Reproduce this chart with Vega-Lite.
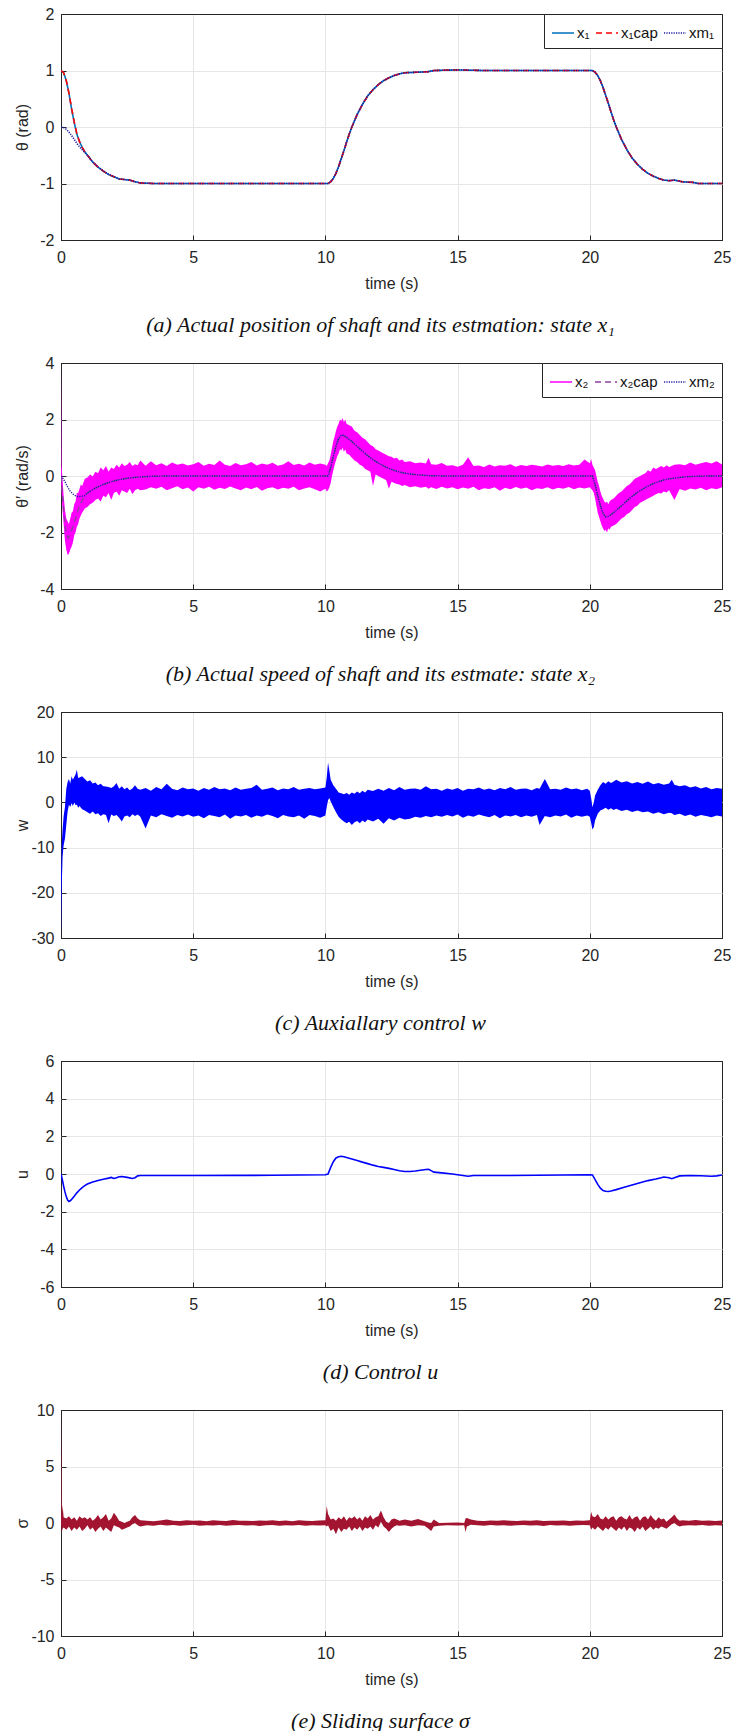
{
"$schema": "https://vega.github.io/schema/vega-lite/v6.json",
"padding": {"left": 13, "top": 5, "right": 5, "bottom": 5},
"spacing": 17,
"datasets": {
"pos": [
{"t":0,"x1":1,"x1cap":1,"xm1":0},{"t":0.1,"x1":0.96,"x1cap":0.96,"xm1":-0.01},{"t":0.2,"x1":0.82,"x1cap":0.82,"xm1":-0.04},{"t":0.3,"x1":0.6,"x1cap":0.6,"xm1":-0.09},{"t":0.4,"x1":0.32,"x1cap":0.33,"xm1":-0.15},{"t":0.5,"x1":0.08,"x1cap":0.09,"xm1":-0.22},{"t":0.6,"x1":-0.13,"x1cap":-0.12,"xm1":-0.29},{"t":0.7,"x1":-0.26,"x1cap":-0.26,"xm1":-0.35},{"t":0.8,"x1":-0.36,"x1cap":-0.36,"xm1":-0.4},{"t":0.9,"x1":-0.44,"x1cap":-0.44,"xm1":-0.45},{"t":1.0,"x1":-0.5,"x1cap":-0.5,"xm1":-0.5},
{"t":1.2,"x1":-0.62,"x1cap":-0.62,"xm1":-0.62},{"t":1.4,"x1":-0.71,"x1cap":-0.71,"xm1":-0.71},{"t":1.6,"x1":-0.78,"x1cap":-0.78,"xm1":-0.78},{"t":1.8,"x1":-0.84,"x1cap":-0.84,"xm1":-0.84},{"t":2.0,"x1":-0.88,"x1cap":-0.88,"xm1":-0.88},{"t":2.2,"x1":-0.92,"x1cap":-0.92,"xm1":-0.92},{"t":2.4,"x1":-0.93,"x1cap":-0.93,"xm1":-0.93},{"t":2.6,"x1":-0.94,"x1cap":-0.94,"xm1":-0.94},{"t":2.8,"x1":-0.97,"x1cap":-0.97,"xm1":-0.97},{"t":3.0,"x1":-0.99,"x1cap":-0.99,"xm1":-0.99},{"t":3.5,"x1":-1,"x1cap":-1,"xm1":-1},{"t":10.1,"x1":-1,"x1cap":-1,"xm1":-1},
{"t":10.2,"x1":-0.97,"x1cap":-0.97,"xm1":-0.97},{"t":10.3,"x1":-0.91,"x1cap":-0.91,"xm1":-0.91},{"t":10.4,"x1":-0.82,"x1cap":-0.82,"xm1":-0.82},{"t":10.5,"x1":-0.7,"x1cap":-0.7,"xm1":-0.7},{"t":10.6,"x1":-0.56,"x1cap":-0.56,"xm1":-0.56},{"t":10.7,"x1":-0.42,"x1cap":-0.42,"xm1":-0.42},{"t":10.8,"x1":-0.27,"x1cap":-0.27,"xm1":-0.27},{"t":10.9,"x1":-0.13,"x1cap":-0.13,"xm1":-0.13},{"t":11.0,"x1":0,"x1cap":0,"xm1":0},{"t":11.2,"x1":0.22,"x1cap":0.22,"xm1":0.22},{"t":11.4,"x1":0.4,"x1cap":0.4,"xm1":0.4},{"t":11.6,"x1":0.55,"x1cap":0.55,"xm1":0.55},{"t":11.8,"x1":0.66,"x1cap":0.66,"xm1":0.66},{"t":12.0,"x1":0.75,"x1cap":0.75,"xm1":0.75},{"t":12.2,"x1":0.82,"x1cap":0.82,"xm1":0.82},{"t":12.4,"x1":0.87,"x1cap":0.87,"xm1":0.87},{"t":12.6,"x1":0.91,"x1cap":0.91,"xm1":0.91},{"t":12.8,"x1":0.94,"x1cap":0.94,"xm1":0.94},{"t":13.0,"x1":0.96,"x1cap":0.96,"xm1":0.96},{"t":13.5,"x1":0.97,"x1cap":0.97,"xm1":0.97},{"t":13.9,"x1":0.98,"x1cap":0.98,"xm1":0.98},{"t":14.1,"x1":1.0,"x1cap":1.0,"xm1":1.0},{"t":15.0,"x1":1.01,"x1cap":1.01,"xm1":1.01},{"t":16.0,"x1":1.0,"x1cap":1.0,"xm1":1.0},{"t":20.1,"x1":1.0,"x1cap":1.0,"xm1":1.0},
{"t":20.2,"x1":0.97,"x1cap":0.97,"xm1":0.97},{"t":20.3,"x1":0.91,"x1cap":0.91,"xm1":0.91},{"t":20.4,"x1":0.82,"x1cap":0.82,"xm1":0.82},{"t":20.5,"x1":0.7,"x1cap":0.7,"xm1":0.7},{"t":20.6,"x1":0.56,"x1cap":0.56,"xm1":0.56},{"t":20.7,"x1":0.42,"x1cap":0.42,"xm1":0.42},{"t":20.8,"x1":0.27,"x1cap":0.27,"xm1":0.27},{"t":20.9,"x1":0.13,"x1cap":0.13,"xm1":0.13},{"t":21.0,"x1":0,"x1cap":0,"xm1":0},{"t":21.2,"x1":-0.22,"x1cap":-0.22,"xm1":-0.22},{"t":21.4,"x1":-0.4,"x1cap":-0.4,"xm1":-0.4},{"t":21.6,"x1":-0.55,"x1cap":-0.55,"xm1":-0.55},{"t":21.8,"x1":-0.66,"x1cap":-0.66,"xm1":-0.66},{"t":22.0,"x1":-0.75,"x1cap":-0.75,"xm1":-0.75},{"t":22.2,"x1":-0.82,"x1cap":-0.82,"xm1":-0.82},{"t":22.4,"x1":-0.87,"x1cap":-0.87,"xm1":-0.87},{"t":22.6,"x1":-0.91,"x1cap":-0.91,"xm1":-0.91},{"t":22.8,"x1":-0.94,"x1cap":-0.94,"xm1":-0.94},{"t":23.0,"x1":-0.95,"x1cap":-0.95,"xm1":-0.95},{"t":23.2,"x1":-0.94,"x1cap":-0.94,"xm1":-0.94},{"t":23.5,"x1":-0.97,"x1cap":-0.97,"xm1":-0.97},{"t":23.9,"x1":-0.98,"x1cap":-0.98,"xm1":-0.98},{"t":24.1,"x1":-1,"x1cap":-1,"xm1":-1},{"t":25,"x1":-1,"x1cap":-1,"xm1":-1}
],
"spdLines": [
{"t":0,"x2cap":0,"xm2":0},{"t":0.05,"x2cap":-0.6,"xm2":-0.05},{"t":0.1,"x2cap":-1.2,"xm2":-0.12},{"t":0.15,"x2cap":-1.7,"xm2":-0.2},{"t":0.2,"x2cap":-2.0,"xm2":-0.3},{"t":0.27,"x2cap":-2.2,"xm2":-0.42},{"t":0.35,"x2cap":-2.05,"xm2":-0.54},{"t":0.45,"x2cap":-1.8,"xm2":-0.64},{"t":0.55,"x2cap":-1.5,"xm2":-0.7},{"t":0.65,"x2cap":-1.2,"xm2":-0.73},{"t":0.75,"x2cap":-0.95,"xm2":-0.72},{"t":0.9,"x2cap":-0.7,"xm2":-0.7},{"t":1.0,"x2cap":-0.6,"xm2":-0.6},{"t":1.2,"x2cap":-0.48,"xm2":-0.48},{"t":1.4,"x2cap":-0.38,"xm2":-0.38},{"t":1.6,"x2cap":-0.3,"xm2":-0.3},{"t":1.9,"x2cap":-0.2,"xm2":-0.2},{"t":2.2,"x2cap":-0.13,"xm2":-0.13},{"t":2.5,"x2cap":-0.08,"xm2":-0.08},{"t":3.0,"x2cap":-0.03,"xm2":-0.03},{"t":3.5,"x2cap":-0.01,"xm2":-0.01},{"t":4.0,"x2cap":0,"xm2":0},{"t":10.1,"x2cap":0,"xm2":0},
{"t":10.2,"x2cap":0.3,"xm2":0.3},{"t":10.3,"x2cap":0.7,"xm2":0.7},{"t":10.4,"x2cap":1.05,"xm2":1.05},{"t":10.5,"x2cap":1.32,"xm2":1.32},{"t":10.6,"x2cap":1.45,"xm2":1.45},{"t":10.7,"x2cap":1.43,"xm2":1.43},{"t":10.8,"x2cap":1.37,"xm2":1.37},{"t":11.0,"x2cap":1.22,"xm2":1.22},{"t":11.2,"x2cap":1.05,"xm2":1.05},{"t":11.4,"x2cap":0.88,"xm2":0.88},{"t":11.6,"x2cap":0.72,"xm2":0.72},{"t":11.8,"x2cap":0.58,"xm2":0.58},{"t":12.0,"x2cap":0.46,"xm2":0.46},{"t":12.2,"x2cap":0.36,"xm2":0.36},{"t":12.4,"x2cap":0.27,"xm2":0.27},{"t":12.6,"x2cap":0.2,"xm2":0.2},{"t":12.8,"x2cap":0.14,"xm2":0.14},{"t":13.0,"x2cap":0.1,"xm2":0.1},{"t":13.3,"x2cap":0.06,"xm2":0.06},{"t":13.6,"x2cap":0.03,"xm2":0.03},{"t":14.0,"x2cap":0.01,"xm2":0.01},{"t":14.5,"x2cap":0,"xm2":0},{"t":20.1,"x2cap":0,"xm2":0},
{"t":20.2,"x2cap":-0.3,"xm2":-0.3},{"t":20.3,"x2cap":-0.7,"xm2":-0.7},{"t":20.4,"x2cap":-1.05,"xm2":-1.05},{"t":20.5,"x2cap":-1.32,"xm2":-1.32},{"t":20.6,"x2cap":-1.45,"xm2":-1.45},{"t":20.7,"x2cap":-1.43,"xm2":-1.43},{"t":20.8,"x2cap":-1.37,"xm2":-1.37},{"t":21.0,"x2cap":-1.22,"xm2":-1.22},{"t":21.2,"x2cap":-1.05,"xm2":-1.05},{"t":21.4,"x2cap":-0.88,"xm2":-0.88},{"t":21.6,"x2cap":-0.72,"xm2":-0.72},{"t":21.8,"x2cap":-0.58,"xm2":-0.58},{"t":22.0,"x2cap":-0.46,"xm2":-0.46},{"t":22.2,"x2cap":-0.36,"xm2":-0.36},{"t":22.4,"x2cap":-0.27,"xm2":-0.27},{"t":22.6,"x2cap":-0.2,"xm2":-0.2},{"t":22.8,"x2cap":-0.14,"xm2":-0.14},{"t":23.0,"x2cap":-0.1,"xm2":-0.1},{"t":23.3,"x2cap":-0.06,"xm2":-0.06},{"t":23.6,"x2cap":-0.03,"xm2":-0.03},{"t":24.0,"x2cap":-0.01,"xm2":-0.01},{"t":24.5,"x2cap":0,"xm2":0},{"t":25,"x2cap":0,"xm2":0}
],
"spdBand": [
{"t":0,"lo":0,"hi":4},{"t":0.02,"lo":-0.5,"hi":0.4},{"t":0.05,"lo":-1.1,"hi":0.0},{"t":0.1,"lo":-1.7,"hi":-0.7},{"t":0.15,"lo":-2.3,"hi":-1.2},{"t":0.2,"lo":-2.6,"hi":-1.5},{"t":0.25,"lo":-2.8,"hi":-1.6},{"t":0.3,"lo":-2.75,"hi":-1.7},{"t":0.35,"lo":-2.6,"hi":-1.5},{"t":0.4,"lo":-2.5,"hi":-1.3},{"t":0.45,"lo":-2.35,"hi":-1.25},{"t":0.5,"lo":-2.1,"hi":-1.0},{"t":0.55,"lo":-2.0,"hi":-0.9},{"t":0.6,"lo":-1.8,"hi":-0.6},{"t":0.65,"lo":-1.7,"hi":-0.6},{"t":0.7,"lo":-1.5,"hi":-0.45},{"t":0.75,"lo":-1.4,"hi":-0.3},{"t":0.8,"lo":-1.3,"hi":-0.35},{"t":0.9,"lo":-1.15,"hi":-0.1},{"t":1.0,"lo":-1.1,"hi":-0.05},{"t":1.1,"lo":-1.0,"hi":0.05},{"t":1.2,"lo":-0.95,"hi":-0.02},{"t":1.3,"lo":-0.85,"hi":0.15},{"t":1.4,"lo":-0.8,"hi":0.1},{"t":1.5,"lo":-0.9,"hi":0.3},{"t":1.6,"lo":-0.7,"hi":0.2},{"t":1.7,"lo":-0.75,"hi":0.35},{"t":1.8,"lo":-0.6,"hi":0.15},{"t":1.9,"lo":-0.85,"hi":0.3},{"t":2.0,"lo":-0.6,"hi":0.25},{"t":2.1,"lo":-0.55,"hi":0.4},{"t":2.2,"lo":-0.7,"hi":0.3},{"t":2.3,"lo":-0.5,"hi":0.45},{"t":2.4,"lo":-0.55,"hi":0.35},{"t":2.5,"lo":-0.6,"hi":0.4},{"t":2.6,"lo":-0.45,"hi":0.5},{"t":2.7,"lo":-0.65,"hi":0.35},{"t":2.8,"lo":-0.5,"hi":0.42},{"t":2.9,"lo":-0.45,"hi":0.38},{"t":3.0,"lo":-0.5,"hi":0.55},
{"t":3.2,"lo":-0.48,"hi":0.36},{"t":3.4,"lo":-0.4,"hi":0.52},{"t":3.6,"lo":-0.45,"hi":0.38},{"t":3.8,"lo":-0.38,"hi":0.45},{"t":4.0,"lo":-0.5,"hi":0.35},{"t":4.2,"lo":-0.43,"hi":0.48},{"t":4.4,"lo":-0.36,"hi":0.4},{"t":4.6,"lo":-0.47,"hi":0.44},{"t":4.8,"lo":-0.41,"hi":0.37},{"t":5.0,"lo":-0.55,"hi":0.42},{"t":5.2,"lo":-0.4,"hi":0.5},{"t":5.4,"lo":-0.45,"hi":0.36},{"t":5.6,"lo":-0.38,"hi":0.43},{"t":5.8,"lo":-0.49,"hi":0.39},{"t":6.0,"lo":-0.42,"hi":0.55},{"t":6.2,"lo":-0.46,"hi":0.4},{"t":6.4,"lo":-0.37,"hi":0.35},{"t":6.6,"lo":-0.44,"hi":0.46},{"t":6.8,"lo":-0.5,"hi":0.38},{"t":7.0,"lo":-0.41,"hi":0.42},{"t":7.2,"lo":-0.47,"hi":0.5},{"t":7.4,"lo":-0.39,"hi":0.37},{"t":7.6,"lo":-0.52,"hi":0.44},{"t":7.8,"lo":-0.43,"hi":0.4},{"t":8.0,"lo":-0.4,"hi":0.47},{"t":8.2,"lo":-0.48,"hi":0.36},{"t":8.4,"lo":-0.42,"hi":0.41},{"t":8.6,"lo":-0.45,"hi":0.52},{"t":8.8,"lo":-0.38,"hi":0.39},{"t":9.0,"lo":-0.5,"hi":0.43},{"t":9.2,"lo":-0.44,"hi":0.37},{"t":9.4,"lo":-0.4,"hi":0.48},{"t":9.6,"lo":-0.47,"hi":0.4},{"t":9.8,"lo":-0.55,"hi":0.44},{"t":10.0,"lo":-0.45,"hi":0.4},
{"t":10.05,"lo":-0.55,"hi":0.35},{"t":10.1,"lo":-0.5,"hi":0.45},{"t":10.15,"lo":-0.4,"hi":0.55},{"t":10.2,"lo":-0.25,"hi":0.75},{"t":10.25,"lo":0.0,"hi":1.0},{"t":10.3,"lo":0.2,"hi":1.25},{"t":10.35,"lo":0.4,"hi":1.4},{"t":10.4,"lo":0.55,"hi":1.6},{"t":10.45,"lo":0.7,"hi":1.75},{"t":10.5,"lo":0.8,"hi":1.85},{"t":10.55,"lo":0.95,"hi":2.0},{"t":10.6,"lo":0.9,"hi":1.95},{"t":10.65,"lo":1.0,"hi":2.05},{"t":10.7,"lo":0.85,"hi":1.9},{"t":10.75,"lo":0.95,"hi":2.0},{"t":10.8,"lo":0.8,"hi":1.85},{"t":10.9,"lo":0.75,"hi":1.8},{"t":11.0,"lo":0.65,"hi":1.75},{"t":11.1,"lo":0.55,"hi":1.6},{"t":11.2,"lo":0.5,"hi":1.55},{"t":11.3,"lo":0.4,"hi":1.45},{"t":11.4,"lo":0.35,"hi":1.35},{"t":11.5,"lo":0.25,"hi":1.3},{"t":11.6,"lo":0.2,"hi":1.2},{"t":11.7,"lo":0.15,"hi":1.1},{"t":11.8,"lo":-0.35,"hi":1.05},{"t":11.9,"lo":0.05,"hi":0.95},{"t":12.0,"lo":0.0,"hi":0.9},{"t":12.1,"lo":-0.05,"hi":0.85},{"t":12.2,"lo":-0.1,"hi":0.8},{"t":12.3,"lo":-0.15,"hi":0.75},{"t":12.4,"lo":-0.45,"hi":0.7},{"t":12.5,"lo":-0.2,"hi":0.68},{"t":12.6,"lo":-0.25,"hi":0.62},{"t":12.7,"lo":-0.28,"hi":0.65},{"t":12.8,"lo":-0.3,"hi":0.55},{"t":12.9,"lo":-0.35,"hi":0.58},{"t":13.0,"lo":-0.32,"hi":0.5},{"t":13.2,"lo":-0.4,"hi":0.52},{"t":13.4,"lo":-0.36,"hi":0.45},{"t":13.6,"lo":-0.42,"hi":0.48},{"t":13.8,"lo":-0.38,"hi":0.44},{"t":13.9,"lo":-0.45,"hi":0.65},{"t":14.0,"lo":-0.4,"hi":0.42},{"t":14.2,"lo":-0.46,"hi":0.4},{"t":14.4,"lo":-0.38,"hi":0.46},{"t":14.6,"lo":-0.44,"hi":0.36},
{"t":14.8,"lo":-0.4,"hi":0.38},{"t":15.0,"lo":-0.47,"hi":0.33},{"t":15.2,"lo":-0.41,"hi":0.4},{"t":15.4,"lo":-0.45,"hi":0.66},{"t":15.6,"lo":-0.38,"hi":0.35},{"t":15.8,"lo":-0.5,"hi":0.37},{"t":16.0,"lo":-0.43,"hi":0.32},{"t":16.2,"lo":-0.46,"hi":0.41},{"t":16.4,"lo":-0.4,"hi":0.34},{"t":16.6,"lo":-0.52,"hi":0.38},{"t":16.8,"lo":-0.42,"hi":0.36},{"t":17.0,"lo":-0.47,"hi":0.42},{"t":17.2,"lo":-0.39,"hi":0.33},{"t":17.4,"lo":-0.45,"hi":0.39},{"t":17.6,"lo":-0.41,"hi":0.35},{"t":17.8,"lo":-0.5,"hi":0.4},{"t":18.0,"lo":-0.43,"hi":0.37},{"t":18.2,"lo":-0.46,"hi":0.34},{"t":18.4,"lo":-0.4,"hi":0.41},{"t":18.6,"lo":-0.48,"hi":0.36},{"t":18.8,"lo":-0.42,"hi":0.39},{"t":19.0,"lo":-0.45,"hi":0.35},{"t":19.2,"lo":-0.39,"hi":0.42},{"t":19.4,"lo":-0.47,"hi":0.37},{"t":19.6,"lo":-0.41,"hi":0.4},{"t":19.8,"lo":-0.44,"hi":0.58},{"t":20.0,"lo":-0.4,"hi":0.45},
{"t":20.05,"lo":-0.45,"hi":0.6},{"t":20.1,"lo":-0.5,"hi":0.4},{"t":20.15,"lo":-0.6,"hi":0.3},{"t":20.2,"lo":-0.8,"hi":0.2},{"t":20.25,"lo":-1.05,"hi":0.0},{"t":20.3,"lo":-1.3,"hi":-0.2},{"t":20.35,"lo":-1.45,"hi":-0.35},{"t":20.4,"lo":-1.6,"hi":-0.55},{"t":20.45,"lo":-1.75,"hi":-0.7},{"t":20.5,"lo":-1.85,"hi":-0.8},{"t":20.55,"lo":-1.95,"hi":-0.9},{"t":20.6,"lo":-1.9,"hi":-0.95},{"t":20.65,"lo":-2.0,"hi":-0.9},{"t":20.7,"lo":-1.85,"hi":-1.0},{"t":20.75,"lo":-1.9,"hi":-0.9},{"t":20.8,"lo":-1.8,"hi":-0.85},{"t":20.9,"lo":-1.75,"hi":-0.8},{"t":21.0,"lo":-1.7,"hi":-0.7},{"t":21.1,"lo":-1.6,"hi":-0.6},{"t":21.2,"lo":-1.5,"hi":-0.55},{"t":21.3,"lo":-1.45,"hi":-0.45},{"t":21.4,"lo":-1.35,"hi":-0.35},{"t":21.5,"lo":-1.3,"hi":-0.3},{"t":21.6,"lo":-1.2,"hi":-0.2},{"t":21.7,"lo":-1.1,"hi":-0.1},{"t":21.8,"lo":-1.05,"hi":-0.05},{"t":21.9,"lo":-0.95,"hi":0.0},{"t":22.0,"lo":-0.9,"hi":0.05},{"t":22.1,"lo":-0.85,"hi":0.1},{"t":22.2,"lo":-0.8,"hi":0.2},{"t":22.3,"lo":-0.75,"hi":0.15},{"t":22.4,"lo":-0.7,"hi":0.3},{"t":22.5,"lo":-0.65,"hi":0.25},{"t":22.6,"lo":-0.6,"hi":0.3},{"t":22.7,"lo":-0.62,"hi":0.35},{"t":22.8,"lo":-0.55,"hi":0.3},{"t":22.9,"lo":-0.58,"hi":0.38},{"t":23.0,"lo":-0.5,"hi":0.32},{"t":23.2,"lo":-0.85,"hi":0.4},{"t":23.4,"lo":-0.46,"hi":0.42},{"t":23.6,"lo":-0.52,"hi":0.38},{"t":23.8,"lo":-0.44,"hi":0.48},{"t":24.0,"lo":-0.48,"hi":0.4},{"t":24.2,"lo":-0.42,"hi":0.45},{"t":24.4,"lo":-0.5,"hi":0.5},{"t":24.6,"lo":-0.43,"hi":0.44},{"t":24.8,"lo":-0.47,"hi":0.52},{"t":25.0,"lo":-0.4,"hi":0.41}
],
"wBand": [
{"t":0,"lo":-30,"hi":-16},{"t":0.03,"lo":-18,"hi":-9},{"t":0.06,"lo":-12,"hi":-6},{"t":0.1,"lo":-9.5,"hi":-3},{"t":0.15,"lo":-8,"hi":-1},{"t":0.2,"lo":-5,"hi":3},{"t":0.25,"lo":-2,"hi":4.5},{"t":0.3,"lo":-0.5,"hi":5.2},{"t":0.35,"lo":-1.0,"hi":4.2},{"t":0.4,"lo":-0.2,"hi":5.8},{"t":0.45,"lo":-0.8,"hi":5.0},{"t":0.5,"lo":0,"hi":5.6},{"t":0.55,"lo":-0.6,"hi":6.2},{"t":0.6,"lo":-0.5,"hi":7.2},{"t":0.65,"lo":-1.2,"hi":5.4},{"t":0.7,"lo":-0.8,"hi":5.5},{"t":0.8,"lo":-1.5,"hi":5.8},{"t":0.9,"lo":-1.8,"hi":5.2},{"t":1.0,"lo":-2.2,"hi":4.6},{"t":1.1,"lo":-2.5,"hi":4.9},{"t":1.2,"lo":-2.0,"hi":4.2},{"t":1.3,"lo":-2.6,"hi":4.4},{"t":1.4,"lo":-2.4,"hi":3.8},{"t":1.5,"lo":-3.0,"hi":4.1},{"t":1.6,"lo":-2.6,"hi":3.6},{"t":1.7,"lo":-2.8,"hi":3.5},{"t":1.8,"lo":-4.6,"hi":3.4},{"t":1.9,"lo":-2.7,"hi":3.2},{"t":2.0,"lo":-3.0,"hi":3.6},{"t":2.1,"lo":-2.8,"hi":4.3},{"t":2.2,"lo":-3.4,"hi":3.0},{"t":2.3,"lo":-4.2,"hi":3.6},{"t":2.4,"lo":-3.1,"hi":2.9},{"t":2.5,"lo":-2.9,"hi":3.3},{"t":2.6,"lo":-3.3,"hi":2.7},{"t":2.7,"lo":-2.6,"hi":3.1},{"t":2.8,"lo":-3.0,"hi":3.8},{"t":2.9,"lo":-2.7,"hi":3.0},{"t":3.0,"lo":-3.2,"hi":2.8},
{"t":3.2,"lo":-5.8,"hi":3.2},{"t":3.4,"lo":-2.9,"hi":2.6},{"t":3.6,"lo":-3.3,"hi":3.4},{"t":3.8,"lo":-2.6,"hi":2.9},{"t":4.0,"lo":-3.0,"hi":4.1},{"t":4.2,"lo":-3.4,"hi":3.0},{"t":4.4,"lo":-2.8,"hi":2.7},{"t":4.6,"lo":-3.1,"hi":3.3},{"t":4.8,"lo":-2.7,"hi":2.9},{"t":5.0,"lo":-3.2,"hi":3.1},{"t":5.2,"lo":-2.9,"hi":2.6},{"t":5.4,"lo":-3.5,"hi":3.2},{"t":5.6,"lo":-2.8,"hi":2.8},{"t":5.8,"lo":-3.0,"hi":3.4},{"t":6.0,"lo":-3.3,"hi":2.9},{"t":6.2,"lo":-2.7,"hi":3.1},{"t":6.4,"lo":-3.6,"hi":2.7},{"t":6.6,"lo":-2.9,"hi":3.3},{"t":6.8,"lo":-3.1,"hi":2.8},{"t":7.0,"lo":-2.8,"hi":3.0},{"t":7.2,"lo":-3.4,"hi":3.2},{"t":7.4,"lo":-2.9,"hi":3.9},{"t":7.6,"lo":-3.2,"hi":2.8},{"t":7.8,"lo":-2.7,"hi":3.0},{"t":8.0,"lo":-3.0,"hi":3.3},{"t":8.2,"lo":-3.5,"hi":2.7},{"t":8.4,"lo":-2.8,"hi":3.1},{"t":8.6,"lo":-3.1,"hi":2.9},{"t":8.8,"lo":-3.3,"hi":3.4},{"t":9.0,"lo":-2.9,"hi":2.8},{"t":9.2,"lo":-3.6,"hi":3.0},{"t":9.4,"lo":-2.8,"hi":3.2},{"t":9.6,"lo":-3.0,"hi":2.9},{"t":9.8,"lo":-3.4,"hi":3.1},{"t":10.0,"lo":-2.9,"hi":3.3},
{"t":10.05,"lo":-1.0,"hi":5.5},{"t":10.1,"lo":0.5,"hi":8.8},{"t":10.15,"lo":1.0,"hi":7.0},{"t":10.2,"lo":0.2,"hi":5.0},{"t":10.3,"lo":-1.0,"hi":3.8},{"t":10.4,"lo":-2.2,"hi":3.0},{"t":10.5,"lo":-3.2,"hi":2.2},{"t":10.6,"lo":-3.8,"hi":2.0},{"t":10.7,"lo":-4.2,"hi":1.8},{"t":10.8,"lo":-4.6,"hi":2.1},{"t":10.9,"lo":-4.3,"hi":1.7},{"t":11.0,"lo":-5.0,"hi":2.2},{"t":11.1,"lo":-4.4,"hi":1.9},{"t":11.2,"lo":-4.1,"hi":2.4},{"t":11.3,"lo":-4.6,"hi":2.0},{"t":11.4,"lo":-4.0,"hi":2.6},{"t":11.5,"lo":-4.4,"hi":2.2},{"t":11.6,"lo":-3.8,"hi":2.8},{"t":11.8,"lo":-4.2,"hi":2.5},{"t":12.0,"lo":-3.6,"hi":3.0},{"t":12.2,"lo":-4.7,"hi":2.6},{"t":12.4,"lo":-3.5,"hi":3.2},{"t":12.6,"lo":-4.0,"hi":2.7},{"t":12.8,"lo":-3.4,"hi":3.4},{"t":13.0,"lo":-3.8,"hi":2.8},{"t":13.2,"lo":-3.6,"hi":3.0},{"t":13.4,"lo":-3.2,"hi":3.1},{"t":13.6,"lo":-3.4,"hi":2.8},{"t":13.8,"lo":-3.0,"hi":3.6},{"t":14.0,"lo":-3.3,"hi":2.9},{"t":14.2,"lo":-2.9,"hi":3.0},{"t":14.4,"lo":-3.2,"hi":2.6},{"t":14.6,"lo":-2.8,"hi":3.1},{"t":14.8,"lo":-3.1,"hi":2.8},{"t":15.0,"lo":-2.7,"hi":3.2},{"t":15.2,"lo":-3.4,"hi":2.6},{"t":15.4,"lo":-2.9,"hi":3.0},{"t":15.6,"lo":-3.2,"hi":2.9},{"t":15.8,"lo":-2.7,"hi":3.3},{"t":16.0,"lo":-3.0,"hi":2.8},{"t":16.2,"lo":-3.3,"hi":3.1},{"t":16.4,"lo":-2.8,"hi":2.7},{"t":16.6,"lo":-3.5,"hi":3.2},{"t":16.8,"lo":-2.9,"hi":2.9},{"t":17.0,"lo":-3.1,"hi":3.4},{"t":17.2,"lo":-2.8,"hi":2.8},{"t":17.4,"lo":-3.3,"hi":3.0},{"t":17.6,"lo":-2.9,"hi":3.1},{"t":17.8,"lo":-3.2,"hi":2.7},{"t":18.0,"lo":-2.8,"hi":3.2},{"t":18.1,"lo":-5.0,"hi":3.0},{"t":18.3,"lo":-3.0,"hi":5.2},{"t":18.5,"lo":-3.3,"hi":2.9},{"t":18.7,"lo":-2.9,"hi":3.0},{"t":18.9,"lo":-3.1,"hi":2.8},{"t":19.1,"lo":-2.7,"hi":3.3},{"t":19.3,"lo":-3.4,"hi":2.9},{"t":19.5,"lo":-2.9,"hi":3.1},{"t":19.7,"lo":-3.2,"hi":2.7},{"t":19.9,"lo":-2.9,"hi":3.0},{"t":20.0,"lo":-3.2,"hi":2.6},
{"t":20.05,"lo":-4.5,"hi":1.0},{"t":20.1,"lo":-6.0,"hi":-1.0},{"t":20.15,"lo":-5.5,"hi":0.0},{"t":20.2,"lo":-4.0,"hi":1.5},{"t":20.3,"lo":-2.5,"hi":2.8},{"t":20.4,"lo":-1.8,"hi":3.8},{"t":20.5,"lo":-1.5,"hi":4.5},{"t":20.6,"lo":-1.2,"hi":4.1},{"t":20.7,"lo":-1.6,"hi":4.7},{"t":20.8,"lo":-1.3,"hi":4.3},{"t":20.9,"lo":-1.7,"hi":4.6},{"t":21.0,"lo":-1.4,"hi":5.0},{"t":21.2,"lo":-1.9,"hi":4.4},{"t":21.4,"lo":-1.6,"hi":4.7},{"t":21.6,"lo":-2.1,"hi":4.2},{"t":21.8,"lo":-1.8,"hi":4.5},{"t":22.0,"lo":-2.2,"hi":4.1},{"t":22.2,"lo":-2.0,"hi":4.6},{"t":22.4,"lo":-2.5,"hi":4.0},{"t":22.6,"lo":-2.2,"hi":4.3},{"t":22.8,"lo":-2.6,"hi":3.9},{"t":23.0,"lo":-2.3,"hi":4.2},{"t":23.1,"lo":-2.4,"hi":5.0},{"t":23.2,"lo":-2.8,"hi":3.9},{"t":23.4,"lo":-2.5,"hi":3.6},{"t":23.6,"lo":-3.0,"hi":3.8},{"t":23.8,"lo":-2.7,"hi":3.3},{"t":24.0,"lo":-3.2,"hi":3.6},{"t":24.2,"lo":-2.8,"hi":3.1},{"t":24.4,"lo":-3.0,"hi":3.4},{"t":24.6,"lo":-3.3,"hi":2.9},{"t":24.8,"lo":-2.9,"hi":3.2},{"t":25.0,"lo":-3.1,"hi":3.0}
],
"ctrl": [
{"t":0,"u":0},{"t":0.05,"u":-0.3},{"t":0.1,"u":-0.65},{"t":0.15,"u":-0.95},{"t":0.2,"u":-1.2},{"t":0.25,"u":-1.38},{"t":0.3,"u":-1.46},{"t":0.35,"u":-1.42},{"t":0.4,"u":-1.35},{"t":0.5,"u":-1.18},{"t":0.6,"u":-1.0},{"t":0.7,"u":-0.85},{"t":0.8,"u":-0.72},{"t":0.9,"u":-0.62},{"t":1.0,"u":-0.53},{"t":1.2,"u":-0.42},{"t":1.4,"u":-0.34},{"t":1.6,"u":-0.28},{"t":1.8,"u":-0.22},{"t":1.9,"u":-0.18},{"t":2.0,"u":-0.24},{"t":2.1,"u":-0.2},{"t":2.2,"u":-0.15},{"t":2.3,"u":-0.13},{"t":2.5,"u":-0.18},{"t":2.7,"u":-0.24},{"t":2.8,"u":-0.2},{"t":2.9,"u":-0.1},{"t":3.0,"u":-0.08},{"t":5,"u":-0.08},{"t":8,"u":-0.07},{"t":10.0,"u":-0.04},{"t":10.1,"u":0.0},{"t":10.2,"u":0.35},{"t":10.3,"u":0.65},{"t":10.4,"u":0.85},{"t":10.5,"u":0.92},{"t":10.6,"u":0.94},{"t":10.7,"u":0.92},{"t":10.8,"u":0.88},{"t":11.0,"u":0.8},{"t":11.2,"u":0.72},{"t":11.4,"u":0.63},{"t":11.6,"u":0.55},{"t":11.8,"u":0.47},{"t":12.0,"u":0.4},{"t":12.2,"u":0.35},{"t":12.4,"u":0.3},{"t":12.6,"u":0.24},{"t":12.8,"u":0.17},{"t":13.0,"u":0.13},{"t":13.2,"u":0.13},{"t":13.4,"u":0.16},{"t":13.6,"u":0.2},{"t":13.8,"u":0.24},{"t":13.9,"u":0.25},{"t":14.0,"u":0.18},{"t":14.1,"u":0.1},{"t":14.4,"u":0.06},{"t":14.8,"u":0.0},{"t":15.2,"u":-0.08},{"t":15.4,"u":-0.12},{"t":15.6,"u":-0.08},{"t":17,"u":-0.08},{"t":20.0,"u":-0.04},{"t":20.1,"u":-0.05},{"t":20.2,"u":-0.3},{"t":20.3,"u":-0.55},{"t":20.4,"u":-0.75},{"t":20.5,"u":-0.88},{"t":20.6,"u":-0.92},{"t":20.7,"u":-0.93},{"t":20.8,"u":-0.9},{"t":21.0,"u":-0.83},{"t":21.3,"u":-0.7},{"t":21.6,"u":-0.58},{"t":21.9,"u":-0.46},{"t":22.2,"u":-0.35},{"t":22.5,"u":-0.27},{"t":22.7,"u":-0.2},{"t":22.8,"u":-0.16},{"t":23.0,"u":-0.2},{"t":23.1,"u":-0.25},{"t":23.2,"u":-0.2},{"t":23.4,"u":-0.1},{"t":23.8,"u":-0.08},{"t":24.2,"u":-0.09},{"t":24.6,"u":-0.12},{"t":24.8,"u":-0.1},{"t":25,"u":-0.05}
],
"sigBand": [
{"t":0,"lo":0,"hi":10},{"t":0.03,"lo":-0.8,"hi":0.6},{"t":0.06,"lo":-0.5,"hi":1.6},{"t":0.1,"lo":-0.4,"hi":0.5},{"t":0.2,"lo":-0.6,"hi":0.4},{"t":0.3,"lo":-0.3,"hi":0.6},{"t":0.4,"lo":-0.7,"hi":0.3},{"t":0.5,"lo":-0.4,"hi":0.5},{"t":0.6,"lo":-0.6,"hi":0.2},{"t":0.7,"lo":-0.3,"hi":0.6},{"t":0.8,"lo":-0.7,"hi":0.4},{"t":0.9,"lo":-0.5,"hi":0.5},{"t":1.0,"lo":-0.2,"hi":0.3},{"t":1.1,"lo":-0.6,"hi":0.5},{"t":1.2,"lo":-0.4,"hi":0.2},{"t":1.3,"lo":-0.8,"hi":0.4},{"t":1.4,"lo":-0.5,"hi":0.7},{"t":1.5,"lo":-0.3,"hi":0.3},{"t":1.6,"lo":-0.7,"hi":0.5},{"t":1.7,"lo":-0.4,"hi":0.8},{"t":1.8,"lo":-0.6,"hi":0.2},{"t":1.9,"lo":-0.8,"hi":0.4},{"t":2.0,"lo":-0.2,"hi":0.9},{"t":2.1,"lo":-0.3,"hi":0.6},{"t":2.2,"lo":-0.4,"hi":0.2},{"t":2.3,"lo":-0.6,"hi":0.1},{"t":2.4,"lo":-0.5,"hi":0.0},{"t":2.5,"lo":-0.4,"hi":0.1},{"t":2.6,"lo":-0.3,"hi":0.2},{"t":2.7,"lo":-0.1,"hi":0.5},{"t":2.8,"lo":0.0,"hi":0.7},{"t":2.9,"lo":-0.2,"hi":0.4},{"t":3.0,"lo":-0.3,"hi":0.25},
{"t":3.25,"lo":-0.2,"hi":0.2},{"t":3.5,"lo":-0.25,"hi":0.15},{"t":3.75,"lo":-0.15,"hi":0.22},{"t":4.0,"lo":-0.22,"hi":0.3},{"t":4.25,"lo":-0.18,"hi":0.2},{"t":4.5,"lo":-0.25,"hi":0.17},{"t":4.75,"lo":-0.2,"hi":0.25},{"t":5.0,"lo":-0.16,"hi":0.19},{"t":5.25,"lo":-0.24,"hi":0.22},{"t":5.5,"lo":-0.19,"hi":0.16},{"t":5.75,"lo":-0.22,"hi":0.24},{"t":6.0,"lo":-0.17,"hi":0.2},{"t":6.25,"lo":-0.25,"hi":0.18},{"t":6.5,"lo":-0.2,"hi":0.26},{"t":6.75,"lo":-0.18,"hi":0.19},{"t":7.0,"lo":-0.23,"hi":0.21},{"t":7.25,"lo":-0.19,"hi":0.17},{"t":7.5,"lo":-0.26,"hi":0.23},{"t":7.75,"lo":-0.2,"hi":0.2},{"t":8.0,"lo":-0.17,"hi":0.25},{"t":8.25,"lo":-0.24,"hi":0.18},{"t":8.5,"lo":-0.2,"hi":0.22},{"t":8.75,"lo":-0.22,"hi":0.16},{"t":9.0,"lo":-0.18,"hi":0.24},{"t":9.25,"lo":-0.25,"hi":0.2},{"t":9.5,"lo":-0.2,"hi":0.18},{"t":9.75,"lo":-0.23,"hi":0.23},{"t":10.0,"lo":-0.2,"hi":0.25},
{"t":10.05,"lo":-0.3,"hi":1.5},{"t":10.1,"lo":-0.2,"hi":0.8},{"t":10.2,"lo":-0.7,"hi":0.3},{"t":10.3,"lo":-0.5,"hi":0.4},{"t":10.4,"lo":-1.0,"hi":0.2},{"t":10.5,"lo":-0.4,"hi":0.5},{"t":10.6,"lo":-0.8,"hi":0.3},{"t":10.7,"lo":-0.5,"hi":0.6},{"t":10.8,"lo":-0.6,"hi":0.2},{"t":10.9,"lo":-0.3,"hi":0.5},{"t":11.0,"lo":-0.7,"hi":0.4},{"t":11.1,"lo":-0.4,"hi":0.6},{"t":11.2,"lo":-0.6,"hi":0.3},{"t":11.3,"lo":-0.3,"hi":0.5},{"t":11.4,"lo":-0.7,"hi":0.2},{"t":11.5,"lo":-0.4,"hi":0.6},{"t":11.6,"lo":-0.5,"hi":0.4},{"t":11.7,"lo":-0.3,"hi":0.7},{"t":11.8,"lo":-0.6,"hi":0.3},{"t":11.9,"lo":-0.2,"hi":0.5},{"t":12.0,"lo":-0.4,"hi":0.6},{"t":12.1,"lo":0.1,"hi":1.1},{"t":12.2,"lo":-0.3,"hi":0.5},{"t":12.3,"lo":-0.5,"hi":0.1},{"t":12.4,"lo":-0.8,"hi":0.0},{"t":12.5,"lo":-0.5,"hi":0.3},{"t":12.6,"lo":-0.3,"hi":0.4},{"t":12.7,"lo":-0.2,"hi":0.3},{"t":12.8,"lo":-0.25,"hi":0.2},{"t":13.0,"lo":-0.2,"hi":0.3},{"t":13.25,"lo":-0.3,"hi":0.2},{"t":13.5,"lo":-0.2,"hi":0.35},{"t":13.75,"lo":-0.25,"hi":0.15},{"t":13.9,"lo":-0.5,"hi":0.05},{"t":14.0,"lo":-0.7,"hi":0.0},{"t":14.1,"lo":-0.3,"hi":0.3},{"t":14.3,"lo":-0.25,"hi":0.0},{"t":14.6,"lo":-0.2,"hi":0.02},{"t":15.0,"lo":-0.22,"hi":0.04},{"t":15.25,"lo":-0.2,"hi":0.0},{"t":15.3,"lo":-0.8,"hi":0.4},{"t":15.35,"lo":-0.3,"hi":0.45},
{"t":15.5,"lo":-0.15,"hi":0.3},{"t":15.75,"lo":-0.2,"hi":0.2},{"t":16.0,"lo":-0.24,"hi":0.18},{"t":16.25,"lo":-0.18,"hi":0.23},{"t":16.5,"lo":-0.22,"hi":0.19},{"t":16.75,"lo":-0.19,"hi":0.25},{"t":17.0,"lo":-0.25,"hi":0.2},{"t":17.25,"lo":-0.2,"hi":0.17},{"t":17.5,"lo":-0.17,"hi":0.22},{"t":17.75,"lo":-0.23,"hi":0.2},{"t":18.0,"lo":-0.2,"hi":0.24},{"t":18.25,"lo":-0.26,"hi":0.18},{"t":18.5,"lo":-0.18,"hi":0.21},{"t":18.75,"lo":-0.22,"hi":0.19},{"t":19.0,"lo":-0.19,"hi":0.23},{"t":19.25,"lo":-0.24,"hi":0.17},{"t":19.5,"lo":-0.2,"hi":0.22},{"t":19.75,"lo":-0.17,"hi":0.2},{"t":20.0,"lo":-0.2,"hi":0.25},
{"t":20.05,"lo":-0.6,"hi":1.0},{"t":20.1,"lo":-0.4,"hi":0.6},{"t":20.2,"lo":-0.6,"hi":0.5},{"t":20.3,"lo":-0.3,"hi":0.8},{"t":20.4,"lo":-0.5,"hi":0.4},{"t":20.5,"lo":-0.7,"hi":0.3},{"t":20.6,"lo":-0.4,"hi":0.6},{"t":20.7,"lo":-0.6,"hi":0.3},{"t":20.8,"lo":-0.3,"hi":0.5},{"t":20.9,"lo":-0.5,"hi":0.6},{"t":21.0,"lo":-0.7,"hi":0.2},{"t":21.1,"lo":-0.4,"hi":0.5},{"t":21.2,"lo":-0.6,"hi":0.6},{"t":21.3,"lo":-0.3,"hi":0.4},{"t":21.4,"lo":-0.7,"hi":0.3},{"t":21.5,"lo":-0.4,"hi":0.7},{"t":21.6,"lo":-0.5,"hi":0.3},{"t":21.7,"lo":-0.8,"hi":0.5},{"t":21.8,"lo":-0.4,"hi":0.6},{"t":21.9,"lo":-0.6,"hi":0.2},{"t":22.0,"lo":-0.3,"hi":0.5},{"t":22.1,"lo":-0.7,"hi":0.6},{"t":22.2,"lo":-0.5,"hi":0.3},{"t":22.3,"lo":-0.3,"hi":0.7},{"t":22.4,"lo":-0.6,"hi":0.4},{"t":22.5,"lo":-0.4,"hi":0.2},{"t":22.6,"lo":-0.5,"hi":0.5},{"t":22.7,"lo":-0.3,"hi":0.3},{"t":22.8,"lo":-0.4,"hi":0.4},{"t":22.9,"lo":-0.5,"hi":0.1},{"t":23.0,"lo":-0.3,"hi":0.3},{"t":23.1,"lo":-0.1,"hi":0.5},{"t":23.2,"lo":0.0,"hi":0.75},{"t":23.3,"lo":-0.2,"hi":0.4},{"t":23.4,"lo":-0.3,"hi":0.2},{"t":23.5,"lo":-0.25,"hi":0.25},{"t":23.75,"lo":-0.2,"hi":0.2},{"t":24.0,"lo":-0.23,"hi":0.26},{"t":24.25,"lo":-0.18,"hi":0.19},{"t":24.5,"lo":-0.24,"hi":0.22},{"t":24.75,"lo":-0.2,"hi":0.18},{"t":25.0,"lo":-0.22,"hi":0.23}
]
},
"resolve": {"scale": {"color": "independent", "strokeDash": "independent"}, "legend": {"color": "independent", "strokeDash": "independent"}},
"vconcat": [
{
"width": 661, "height": 226,
"title": {"text": "(a) Actual position of shaft and its estmation: state x₁"},
"data": {"name": "pos"},
"transform": [{"fold": ["x1", "x1cap", "xm1"], "as": ["s", "v"]}],
"mark": {"type": "line", "strokeWidth": 1.6, "clip": true},
"encoding": {
"x": {"field": "t", "type": "quantitative", "scale": {"domain": [0, 25], "nice": false}, "axis": {"title": "time (s)", "values": [0, 5, 10, 15, 20, 25], "gridColor": {"condition": {"test": "datum.value == 0 || datum.value == 25", "value": "#262626"}, "value": "#e6e6e6"}}},
"y": {"field": "v", "type": "quantitative", "scale": {"domain": [-2, 2], "nice": false}, "axis": {"title": "θ (rad)", "values": [-2, -1, 0, 1, 2], "gridColor": {"condition": {"test": "abs(datum.value) == 2", "value": "#262626"}, "value": "#e6e6e6"}}},
"color": {"field": "s", "type": "nominal", "scale": {"domain": ["x1", "x1cap", "xm1"], "range": ["#0072BD", "#FF0000", "#1C1CA0"]}, "legend": {"labelExpr": "datum.label == 'x1' ? 'x₁' : datum.label == 'x1cap' ? 'x₁cap' : 'xm₁'"}},
"strokeDash": {"field": "s", "type": "nominal", "scale": {"domain": ["x1", "x1cap", "xm1"], "range": [[1, 0], [6, 4], [1.2, 1.2]]}, "legend": {"labelExpr": "datum.label == 'x1' ? 'x₁' : datum.label == 'x1cap' ? 'x₁cap' : 'xm₁'"}}
}
},
{
"width": 661, "height": 226,
"title": {"text": "(b) Actual speed of shaft and its estmate: state x₂"},
"layer": [
{
"data": {"name": "spdBand"},
"mark": {"type": "area", "color": "#FF00FF", "clip": true},
"encoding": {
"x": {"field": "t", "type": "quantitative", "scale": {"domain": [0, 25], "nice": false}, "axis": {"title": "time (s)", "values": [0, 5, 10, 15, 20, 25], "gridColor": {"condition": {"test": "datum.value == 0 || datum.value == 25", "value": "#262626"}, "value": "#e6e6e6"}}},
"y": {"field": "lo", "type": "quantitative", "scale": {"domain": [-4, 4], "nice": false}, "axis": {"title": "θ′ (rad/s)", "values": [-4, -2, 0, 2, 4], "gridColor": {"condition": {"test": "abs(datum.value) == 4", "value": "#262626"}, "value": "#e6e6e6"}}},
"y2": {"field": "hi"}
}
},
{
"data": {"name": "spdLines"},
"transform": [{"fold": ["x2cap", "xm2"], "as": ["s", "v"]}],
"mark": {"type": "line", "strokeWidth": 1.4, "clip": true},
"encoding": {
"x": {"field": "t", "type": "quantitative"},
"y": {"field": "v", "type": "quantitative"},
"color": {"field": "s", "type": "nominal", "scale": {"domain": ["x2", "x2cap", "xm2"], "range": ["#FF00FF", "#8E3F9E", "#1C1CA0"]}, "legend": {"labelExpr": "datum.label == 'x2' ? 'x₂' : datum.label == 'x2cap' ? 'x₂cap' : 'xm₂'"}},
"strokeDash": {"field": "s", "type": "nominal", "scale": {"domain": ["x2", "x2cap", "xm2"], "range": [[1, 0], [6, 4], [1.2, 1.2]]}, "legend": {"labelExpr": "datum.label == 'x2' ? 'x₂' : datum.label == 'x2cap' ? 'x₂cap' : 'xm₂'"}}
}
}
]
},
{
"width": 661, "height": 226,
"title": {"text": "(c) Auxiallary control w"},
"data": {"name": "wBand"},
"mark": {"type": "area", "color": "#0000FF", "clip": true},
"encoding": {
"x": {"field": "t", "type": "quantitative", "scale": {"domain": [0, 25], "nice": false}, "axis": {"title": "time (s)", "values": [0, 5, 10, 15, 20, 25], "gridColor": {"condition": {"test": "datum.value == 0 || datum.value == 25", "value": "#262626"}, "value": "#e6e6e6"}}},
"y": {"field": "lo", "type": "quantitative", "scale": {"domain": [-30, 20], "nice": false}, "axis": {"title": "w", "values": [-30, -20, -10, 0, 10, 20], "gridColor": {"condition": {"test": "datum.value == -30 || datum.value == 20", "value": "#262626"}, "value": "#e6e6e6"}}},
"y2": {"field": "hi"}
}
},
{
"width": 661, "height": 226,
"title": {"text": "(d) Control u"},
"data": {"name": "ctrl"},
"mark": {"type": "line", "color": "#0000FF", "strokeWidth": 1.6, "clip": true},
"encoding": {
"x": {"field": "t", "type": "quantitative", "scale": {"domain": [0, 25], "nice": false}, "axis": {"title": "time (s)", "values": [0, 5, 10, 15, 20, 25], "gridColor": {"condition": {"test": "datum.value == 0 || datum.value == 25", "value": "#262626"}, "value": "#e6e6e6"}}},
"y": {"field": "u", "type": "quantitative", "scale": {"domain": [-6, 6], "nice": false}, "axis": {"title": "u", "values": [-6, -4, -2, 0, 2, 4, 6], "gridColor": {"condition": {"test": "abs(datum.value) == 6", "value": "#262626"}, "value": "#e6e6e6"}}}
}
},
{
"width": 661, "height": 226,
"title": {"text": "(e) Sliding surface σ"},
"data": {"name": "sigBand"},
"mark": {"type": "area", "color": "#A2142F", "clip": true},
"encoding": {
"x": {"field": "t", "type": "quantitative", "scale": {"domain": [0, 25], "nice": false}, "axis": {"title": "time (s)", "values": [0, 5, 10, 15, 20, 25], "gridColor": {"condition": {"test": "datum.value == 0 || datum.value == 25", "value": "#262626"}, "value": "#e6e6e6"}}},
"y": {"field": "lo", "type": "quantitative", "scale": {"domain": [-10, 10], "nice": false}, "axis": {"title": "σ", "values": [-10, -5, 0, 5, 10], "gridColor": {"condition": {"test": "abs(datum.value) == 10", "value": "#262626"}, "value": "#e6e6e6"}}},
"y2": {"field": "hi"}
}
}
],
"config": {
"font": "Liberation Sans",
"view": {"stroke": "#262626", "strokeWidth": 1},
"axis": {"grid": true, "gridWidth": 1, "domain": false, "ticks": true, "tickColor": "#262626", "tickSize": -5, "labelPadding": 12, "labelFont": "Liberation Sans", "labelFontSize": 16, "labelColor": "#262626", "labelFlush": false, "labelOverlap": false, "labelExpr": "'' + datum.value", "titleFont": "Liberation Sans", "titleFontSize": 16, "titleFontWeight": "normal", "titleColor": "#262626"},
"axisX": {"labelPadding": 14, "titlePadding": 10},
"axisY": {"minExtent": 29, "maxExtent": 29, "titlePadding": 2},
"title": {"orient": "bottom", "anchor": "middle", "font": "Liberation Serif", "fontStyle": "italic", "fontWeight": "normal", "fontSize": 22, "color": "#111111", "offset": 24, "dx": -11},
"legend": {"orient": "top-right", "direction": "horizontal", "title": null, "offset": 0, "strokeColor": "#262626", "fillColor": "#ffffff", "padding": 7, "symbolType": "stroke", "symbolSize": 484, "symbolStrokeWidth": 1.6, "labelFont": "Liberation Sans", "labelFontSize": 15, "labelColor": "#111111", "labelOffset": 2, "columnPadding": 2, "cornerRadius": 0}
}
}
